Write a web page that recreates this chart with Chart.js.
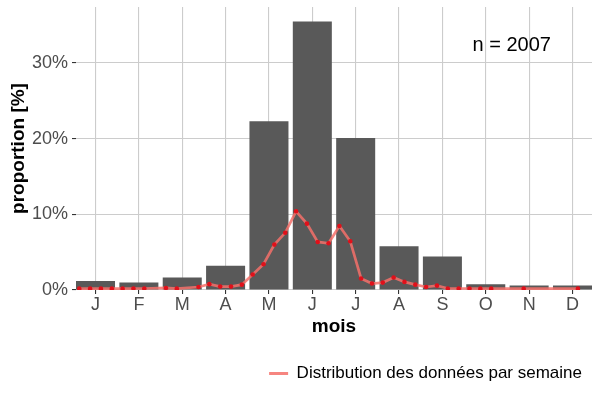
<!DOCTYPE html>
<html>
<head>
<meta charset="utf-8">
<script src="https://cdn.jsdelivr.net/npm/chart.js@4"></script>
<style>
html,body{margin:0;padding:0;background:#fff;}
#wrap{width:600px;height:400px;}
</style>
</head>
<body>
<div id="wrap"><canvas id="c" width="600" height="400"></canvas></div>
<script>
// Monthly bars
const monthLabels = ["J","F","M","A","M","J","J","A","S","O","N","D"];
const monthValues = [1.2, 1.0, 1.65, 3.22, 22.3, 35.5, 20.1, 5.77, 4.43, 0.75, 0.6, 0.6];
// Weekly line (week number 1..48, 4 weeks per month)
const weekNumbers = [1,2,3,4,5,6,7,9,10,12,13,14,15,16,17,18,19,20,21,22,23,24,25,26,27,28,29,30,31,32,33,34,35,36,37,38,39,42,47];
const weekValues  = [0.18,0.18,0.18,0.18,0.18,0.2,0.2,0.27,0.18,0.40,0.77,0.45,0.45,0.71,2.05,3.40,6.00,7.56,10.4,8.77,6.35,6.17,8.46,6.44,1.52,0.85,0.98,1.65,1.07,0.71,0.40,0.58,0.2,0.2,0.2,0.18,0.18,0.18,0.18];
const yTicks = [0,10,20,30];
const annotationText = "n = 2007";
const legendText = "Distribution des données par semaine";

const FONT = "'Liberation Sans', Arial, sans-serif";

const barData = monthValues.map((v,i)=>({x:i+1, y:v}));
const lineData = weekNumbers.map((w,i)=>({x:0.375 + w/4, y:weekValues[i]}));

const annotationPlugin = {
  id:'nAnnot',
  afterDatasetsDraw(chart){
    const {ctx, scales:{x,y}} = chart;
    ctx.save();
    ctx.font = "20px " + FONT;
    ctx.fillStyle = "#000";
    ctx.textAlign = "center";
    ctx.textBaseline = "middle";
    ctx.fillText(annotationText, x.getPixelForValue(10.6), y.getPixelForValue(32.3));
    ctx.restore();
  }
};

new Chart(document.getElementById('c'), {
  data:{
    datasets:[
      {
        type:'line',
        label:legendText,
        data:lineData,
        borderColor:'rgba(244,112,106,0.85)',
        borderWidth:2.7,
        pointRadius:2.3,
        pointBackgroundColor:'#e0101a',
        pointBorderWidth:0,
        tension:0,
        order:0
      },
      {
        type:'bar',
        label:'mois',
        data:barData,
        backgroundColor:'#595959',
        barPercentage:0.9,
        categoryPercentage:1.0,
        order:1
      }
    ]
  },
  options:{
    responsive:false,
    animation:false,
    layout:{padding:{left:0,right:8,top:7,bottom:8}},
    plugins:{
      legend:{
        position:'bottom',
        align:'end',
        labels:{
          font:{family:FONT,size:17},
          color:'#000',
          boxWidth:19,
          boxHeight:3,
          padding:10,
          generateLabels:(chart)=>[{text:legendText, fillStyle:'rgba(244,112,106,0.85)', strokeStyle:'rgba(0,0,0,0)', lineWidth:0, datasetIndex:0}]
        }
      },
      tooltip:{enabled:false}
    },
    scales:{
      x:{
        type:'linear',
        offset:false,
        min:0.55, max:12.45,
        afterBuildTicks:(s)=>{ s.ticks = monthLabels.map((m,i)=>({value:i+1})); },
        afterFit:(s)=>{ s.height = 65; s.paddingLeft = 0; s.paddingRight = 0; },
        ticks:{
          font:{family:FONT,size:18},
          color:'#4d4d4d',
          padding:0,
          autoSkip:false,
          maxRotation:0,
          callback:(v)=>monthLabels[v-1]
        },
        grid:{offset:false,color:'#cccccc',lineWidth:1.1,tickLength:4,tickColor:'#333333'},
        border:{display:false},
        title:{display:true,text:'mois',font:{family:FONT,size:19,weight:'bold'},color:'#000',padding:{top:0,bottom:17}}
      },
      y:{
        type:'linear',
        min:0, max:37.4,
        afterBuildTicks:(s)=>{ s.ticks = yTicks.map(v=>({value:v})); },
        afterFit:(s)=>{ s.width = 76; s.paddingTop = 0; s.paddingBottom = 0; },
        ticks:{
          font:{family:FONT,size:18},
          color:'#4d4d4d',
          padding:4,
          callback:(v)=>v+'%'
        },
        grid:{color:'#cccccc',lineWidth:1.1,tickLength:4,tickColor:'#333333'},
        border:{display:false},
        title:{display:true,text:'proportion [%]',font:{family:FONT,size:19,weight:'bold'},color:'#000',padding:{top:7,bottom:0}}
      }
    }
  },
  plugins:[annotationPlugin]
});
</script>
</body>
</html>
